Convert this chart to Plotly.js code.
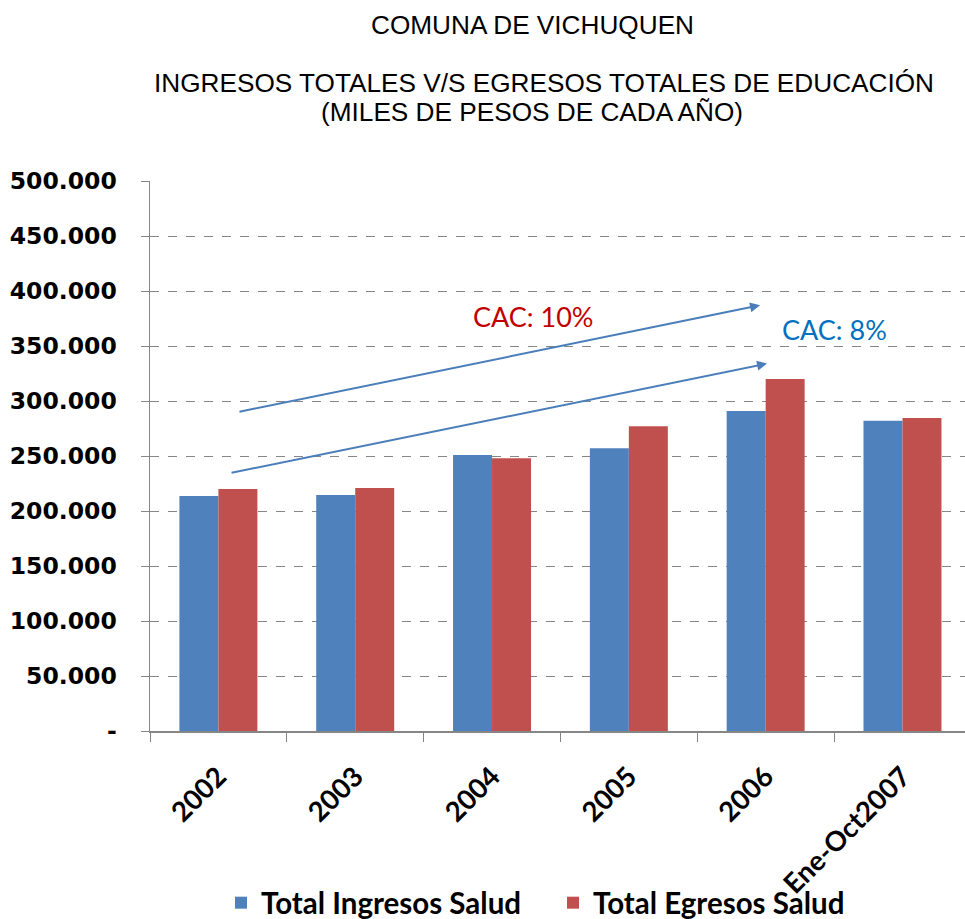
<!DOCTYPE html>
<html>
<head>
<meta charset="utf-8">
<script src="https://cdn.plot.ly/plotly-3.0.1.min.js"></script>
<style>html,body{margin:0;padding:0;background:#fff;}#chart{width:965px;height:919px;}</style>
</head>
<body>
<div id="chart"></div>
<script>
var categories = ['2002', '2003', '2004', '2005', '2006', 'Ene-Oct2007'];
var ingresos = [213600, 214500, 251000, 257000, 291000, 282000];
var egresos = [220000, 221000, 248000, 277000, 320000, 284500];
var seriesNames = ['Total Ingresos Salud', 'Total Egresos Salud'];
var yTickVals = [0, 50000, 100000, 150000, 200000, 250000, 300000, 350000, 400000, 450000, 500000];
var yTickText = ['-', '50.000', '100.000', '150.000', '200.000', '250.000', '300.000', '350.000', '400.000', '450.000', '500.000'];
var titleLines = ['COMUNA DE VICHUQUEN', 'INGRESOS TOTALES V/S EGRESOS TOTALES DE EDUCACIÓN', '(MILES DE PESOS DE CADA AÑO)'];
var cacLabels = ['CAC: 10%', 'CAC: 8%'];

var traces = [
  {type: 'bar', x: categories, y: ingresos, name: seriesNames[0], marker: {color: '#4f81bd'}},
  {type: 'bar', x: categories, y: egresos, name: seriesNames[1], marker: {color: '#c0504d'}}
];

var titleFont = {family: 'Liberation Sans, Arial, sans-serif', size: 26.2, color: '#000'};

var layout = {
  width: 965, height: 919,
  margin: {l: 150, r: 0, t: 181, b: 188},
  paper_bgcolor: '#fff', plot_bgcolor: '#fff',
  barmode: 'group', bargap: 0.43, bargroupgap: 0,
  showlegend: true,
  legend: {orientation: 'h', xref: 'container', x: 0.229, xanchor: 'left', yref: 'container', y: 0.0174, yanchor: 'middle',
    bgcolor: 'rgba(0,0,0,0)', entrywidth: 287, entrywidthmode: 'pixels',
    font: {family: 'Lato, sans-serif', size: 29.5, weight: 'bold', color: '#000'}, traceorder: 'normal'},
  xaxis: {
    type: 'category', range: [-0.5, 5.457],
    tickangle: -45, tickson: 'boundaries', ticks: 'outside', ticklen: 9, tickcolor: '#868686',
    ticklabelstandoff: 17,
    showline: true, linecolor: '#868686', linewidth: 1.5, showgrid: false, zeroline: false,
    tickfont: {family: 'Lato, sans-serif', size: 27.5, weight: 'bold', color: '#000'}, fixedrange: true
  },
  yaxis: {
    range: [0, 500000], tickmode: 'array', tickvals: yTickVals, ticktext: yTickText,
    ticks: 'outside', ticklen: 8, tickcolor: '#868686', ticklabelstandoff: 19,
    showline: true, linecolor: '#868686', linewidth: 1.5,
    showgrid: true, gridcolor: '#868686', griddash: 'dash', gridwidth: 1, zeroline: false,
    tickfont: {family: 'DejaVu Sans, Verdana, sans-serif', size: 23.5, weight: 'bold', color: '#000'}, fixedrange: true
  },
  annotations: [
    {xref: 'paper', yref: 'paper', x: 0.469, y: 1, yshift: 156, xanchor: 'center', yanchor: 'middle', showarrow: false, text: titleLines[0], font: titleFont},
    {xref: 'paper', yref: 'paper', x: 0.483, y: 1, yshift: 98.5, xanchor: 'center', yanchor: 'middle', showarrow: false, text: titleLines[1], font: titleFont},
    {xref: 'paper', yref: 'paper', x: 0.469, y: 1, yshift: 69, xanchor: 'center', yanchor: 'middle', showarrow: false, text: titleLines[2], font: titleFont},
    {xref: 'x', yref: 'y', x: 3.959, y: 387000, axref: 'x', ayref: 'y', ax: 0.143, ay: 290000, showarrow: true, text: '', arrowhead: 2, arrowsize: 1, arrowwidth: 2, arrowcolor: '#4a7ebb'},
    {xref: 'x', yref: 'y', x: 4.010, y: 334000, axref: 'x', ayref: 'y', ax: 0.085, ay: 234500, showarrow: true, text: '', arrowhead: 2, arrowsize: 1, arrowwidth: 2, arrowcolor: '#4a7ebb'},
    {xref: 'x', yref: 'y', x: 2.3, y: 377000, xanchor: 'center', yanchor: 'middle', showarrow: false, text: cacLabels[0], font: {family: 'Lato, sans-serif', size: 27, color: '#c00000'}},
    {xref: 'x', yref: 'y', x: 4.5, y: 365000, xanchor: 'center', yanchor: 'middle', showarrow: false, text: cacLabels[1], font: {family: 'Lato, sans-serif', size: 27, color: '#0070c0'}}
  ]
};

Plotly.newPlot('chart', traces, layout, {displayModeBar: false, staticPlot: true});
</script>
</body>
</html>
